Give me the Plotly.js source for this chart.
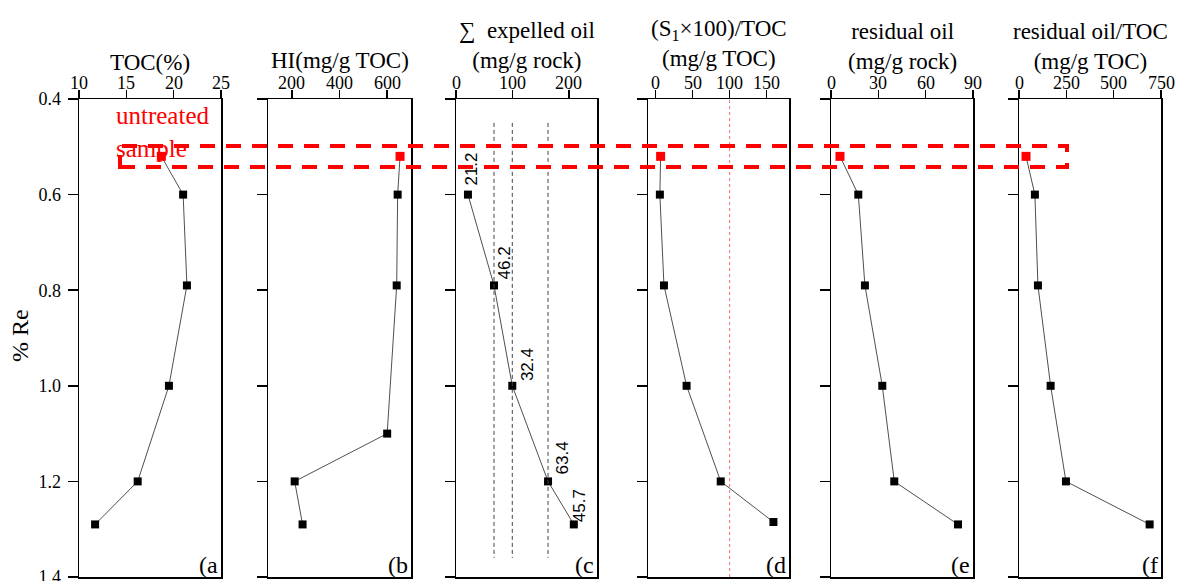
<!DOCTYPE html>
<html>
<head>
<meta charset="utf-8">
<script src="https://cdn.plot.ly/plotly-3.0.1.min.js"></script>
<style>body{margin:0;background:#fff;}#chart{width:1177px;height:581px;}</style>
</head>
<body>
<div id="chart"></div>
<script>
// ---- data ----
const tocRo = [0.52, 0.6, 0.79, 1.0, 1.2, 1.29];
const tocVal = [18.7, 21.0, 21.4, 19.5, 16.2, 11.7];

const hiRo = [0.52, 0.6, 0.79, 1.1, 1.2, 1.29];
const hiVal = [654, 644, 640, 600, 212, 245];

const expRo = [0.6, 0.79, 1.0, 1.2, 1.29];
const expCum = [21.2, 67.4, 99.8, 163.2, 208.9];
const expStepLabels = ["21.2", "46.2", "32.4", "63.4", "45.7"];
const expStageLines = [67.4, 99.8, 163.2];

const s1Ro = [0.52, 0.6, 0.79, 1.0, 1.2, 1.285];
const s1Val = [7, 6, 11.5, 42, 88, 159];
const s1RefLine = 100;

const resRo = [0.52, 0.6, 0.79, 1.0, 1.2, 1.29];
const resVal = [5.7, 17.3, 21.5, 32.5, 40.1, 80.5];

const resTocRo = [0.52, 0.6, 0.79, 1.0, 1.2, 1.29];
const resTocVal = [37, 84, 100, 167, 248, 690];

const yTicks = [0.4, 0.6, 0.8, 1.0, 1.2, 1.4];

// ---- layout helpers ----
const W = 1177, H = 581;
const M = {l: 79, r: 16, t: 99, b: 4};
const PW = W - M.l - M.r, PH = H - M.t - M.b;
const px = x => (x - M.l) / PW;
const py = y => (H - M.b - y) / PH;

const panels = [
  {px: [79, 221], range: [10, 25], ticks: [10, 15, 20, 25], title: "TOC(%)", tshift: 37, label: "(a"},
  {px: [268, 411], range: [100, 700], ticks: [200, 400, 600], title: "HI(mg/g TOC)", tshift: 39, label: "(b"},
  {px: [456, 597], range: [0, 250], ticks: [0, 100, 200], title: "\u2211\u00a0 expelled oil<br>(mg/g rock)", tshift: 54, label: "(c"},
  {px: [648, 789], range: [-10, 180], ticks: [0, 50, 100, 150], title: "(S<sub>1</sub>\u00d7100)/TOC<br>(mg/g TOC)", tshift: 56, label: "(d"},
  {px: [831, 973], range: [0, 90], ticks: [0, 30, 60, 90], title: "residual oil<br>(mg/g rock)", tshift: 53, label: "(e"},
  {px: [1019, 1161], range: [0, 750], ticks: [0, 250, 500, 750], title: "residual oil/TOC<br>(mg/g TOC)", tshift: 53, label: "(f"}
];

const serif = "'Liberation Serif', 'Times New Roman', serif";
const red = "#ff0000";

const layout = {
  width: W, height: H,
  margin: M,
  paper_bgcolor: "#fff", plot_bgcolor: "#fff",
  showlegend: false,
  font: {family: serif, size: 18, color: "#000"},
  annotations: [], shapes: []
};

panels.forEach((p, i) => {
  const n = i === 0 ? "" : String(i + 1);
  layout["xaxis" + n] = {
    domain: [px(p.px[0]), px(p.px[1])],
    range: p.range, autorange: false,
    side: "top", anchor: "y" + n,
    showline: true, mirror: true, linecolor: "#000", linewidth: 1.5,
    ticks: "outside", ticklen: 8, tickwidth: 1.5, tickcolor: "#000",
    tickvals: p.ticks, showticklabels: false,
    showgrid: false, zeroline: false
  };
  layout["yaxis" + n] = {
    domain: [0, 1],
    range: [1.4, 0.4], autorange: false,
    anchor: "x" + n,
    showline: true, mirror: true, linecolor: "#000", linewidth: 1.5,
    ticks: "outside", ticklen: 10, tickwidth: 1.5, tickcolor: "#000",
    tickvals: yTicks, ticktext: yTicks.map(v => v.toFixed(1)),
    showticklabels: i === 0, ticklabelstandoff: 3, ticklabeloverflow: "allow",
    showgrid: false, zeroline: false,
    tickfont: {family: serif, size: 18, color: "#000"}
  };
  // top tick labels
  p.ticks.forEach(t => {
    layout.annotations.push({
      xref: "x" + n, yref: "paper", x: t, y: 1,
      xanchor: "center", yanchor: "middle", yshift: 16,
      text: String(t), showarrow: false,
      font: {family: serif, size: 18, color: "#000"}
    });
  });
  layout.annotations.push({
    xref: "paper", yref: "paper",
    x: (px(p.px[0]) + px(p.px[1])) / 2, y: 1,
    xanchor: "center", yanchor: "middle", yshift: p.tshift,
    text: p.title, showarrow: false,
    font: {family: serif, size: 23, color: "#000"}
  });
  layout.annotations.push({
    xref: "paper", yref: "paper",
    x: px(p.px[1] - 1), y: py(565),
    xanchor: "right", yanchor: "middle",
    text: p.label, showarrow: false,
    font: {family: serif, size: 24, color: "#000"}
  });
});

// % Re title
layout.annotations.push({
  xref: "paper", yref: "paper", x: px(20), y: py(336),
  xanchor: "center", yanchor: "middle", textangle: -90,
  text: "% Re", showarrow: false,
  font: {family: serif, size: 24, color: "#000"}
});

// untreated sample label
layout.annotations.push({
  xref: "paper", yref: "paper", x: px(114), y: py(100),
  xanchor: "left", yanchor: "top", align: "left",
  text: "untreated<br>sample", showarrow: false,
  font: {family: serif, size: 25, color: red}
});

// expelled oil step labels (rotated)
const labelShift = [[4, 26], [10, 22], [16, 21], [14, 23], [6, 19]];
expStepLabels.forEach((t, k) => {
  layout.annotations.push({
    xref: "x3", yref: "y3", x: expCum[k], y: expRo[k],
    xanchor: "center", yanchor: "middle", textangle: -90,
    xshift: labelShift[k][0], yshift: labelShift[k][1],
    text: t, showarrow: false,
    font: {family: "'Liberation Sans', Arial, sans-serif", size: 17, color: "#000"}
  });
});

// stage lines in panel c
expStageLines.forEach(v => {
  layout.shapes.push({
    type: "line", xref: "x3", yref: "y3",
    x0: v, x1: v, y0: 0.45, y1: 1.36,
    line: {color: "#444", width: 1, dash: "4px,3px"}
  });
});

// reference line in panel d
layout.shapes.push({
  type: "line", xref: "x4", yref: "paper",
  x0: s1RefLine, x1: s1RefLine, y0: 0, y1: 1,
  line: {color: "#ff6666", width: 1, dash: "dot"}
});

// untreated sample box
layout.shapes.push({
  type: "rect", xref: "paper", yref: "paper",
  x0: px(120), x1: px(1067), y0: py(167), y1: py(146),
  line: {color: red, width: 4, dash: "15px,11px"},
  fillcolor: "rgba(0,0,0,0)"
});

function series(xv, yv, ax, firstRed) {
  const colors = xv.map((_, k) => (firstRed && k === 0) ? red : "#000");
  const sizes = xv.map((_, k) => (firstRed && k === 0) ? 9 : 8);
  return {
    x: xv, y: yv, xaxis: "x" + ax, yaxis: "y" + ax,
    type: "scatter", mode: "lines+markers",
    line: {color: "#222", width: 0.8},
    marker: {symbol: "square", color: colors, size: sizes, opacity: 1, line: {width: 0}},
    hoverinfo: "none", cliponaxis: false
  };
}

const data = [
  series(tocVal, tocRo, "", true),
  series(hiVal, hiRo, "2", true),
  series(expCum, expRo, "3", false),
  series(s1Val, s1Ro, "4", true),
  series(resVal, resRo, "5", true),
  series(resTocVal, resTocRo, "6", true)
];

Plotly.newPlot("chart", data, layout, {staticPlot: true, displayModeBar: false});
</script>
</body>
</html>
